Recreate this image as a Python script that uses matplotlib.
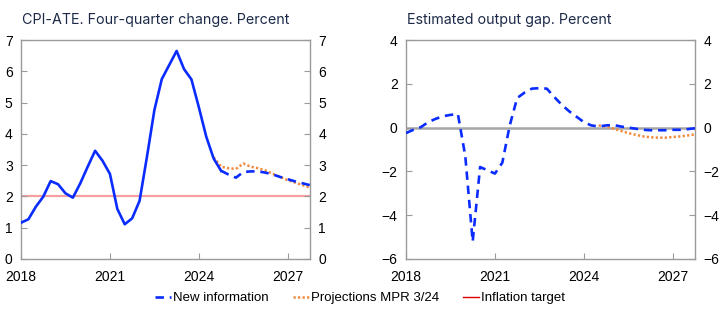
import matplotlib
matplotlib.use("Agg")
import matplotlib.pyplot as plt
from matplotlib.lines import Line2D
import numpy as np

plt.rcParams['font.family'] = ['Liberation Sans', 'DejaVu Sans']

# ---- Data ----
start_year = 2018
# CPI-ATE actual (2018Q1 - 2024Q4)
cpi_actual = [1.16, 1.27, 1.67, 1.99, 2.49, 2.39, 2.10, 1.96,
              2.42, 2.95, 3.46, 3.14, 2.72, 1.60, 1.11, 1.30,
              1.86, 3.27, 4.76, 5.75, 6.20, 6.65, 6.07, 5.74,
              4.85, 3.91, 3.21, 2.82]
# CPI-ATE new information (2024Q4 - 2027Q4)
cpi_new = [2.82, 2.70, 2.60, 2.78, 2.80, 2.80, 2.76, 2.70, 2.62,
           2.55, 2.48, 2.42, 2.36]
cpi_new_start = 27  # quarter index of 2024Q4
# CPI-ATE projections MPR 3/24 (2024Q3 - 2027Q4)
cpi_mpr = [3.25, 2.95, 2.90, 2.88, 3.05, 2.95, 2.90, 2.83, 2.72,
           2.62, 2.52, 2.44, 2.36, 2.28]
cpi_mpr_start = 26
inflation_target = 2.0

# Output gap, new information (2018Q1 - 2027Q4)
gap_new = [-0.25, -0.10, 0.02, 0.25, 0.40, 0.52, 0.58, 0.62,
           -1.30, -5.20, -1.80, -1.95, -2.10, -1.60, 0.10, 1.35,
           1.60, 1.78, 1.80, 1.78, 1.40, 1.05, 0.75, 0.50,
           0.25, 0.10, 0.05, 0.10, 0.12, 0.05, 0.00, -0.05,
           -0.10, -0.12, -0.12, -0.12, -0.10, -0.10, -0.07, -0.03]
# Output gap, projections MPR 3/24 (2024Q3 - 2027Q4)
gap_mpr = [0.10, 0.05, -0.05, -0.15, -0.25, -0.33, -0.40, -0.44,
           -0.46, -0.46, -0.43, -0.40, -0.36, -0.31]
gap_mpr_start = 26

xticks = [2018, 2021, 2024, 2027]
left_yticks = [0, 1, 2, 3, 4, 5, 6, 7]
right_yticks = [-6, -4, -2, 0, 2, 4]

titles = ["CPI-ATE. Four-quarter change. Percent", "Estimated output gap. Percent"]
legend_labels = ["New information", "Projections MPR 3/24", "Inflation target"]

# ---- Styles ----
BLUE = '#0a2cff'
ORANGE = '#f28a3c'
SPINE = '#9a9a9a'
TITLE_C = '#1c2a48'
DASH = (0, (3.2, 2.2))
DOT = (0, (0.9, 0.9))


def qx(start, n):
    return start_year + (start + np.arange(n)) / 4.0


fig = plt.figure(figsize=(7.22, 3.29), dpi=100)
axL = fig.add_axes([21 / 722, 1 - 259 / 329, 289 / 722, 219 / 329])
axR = fig.add_axes([406 / 722, 1 - 259 / 329, 289 / 722, 219 / 329])


def style(ax, yticks, fmt):
    ax.set_xlim(2018, 2027.75)
    ax.set_ylim(yticks[0], yticks[-1])
    ax.set_xticks(xticks)
    ax.set_xticklabels([str(t) for t in xticks])
    ax.set_yticks(yticks)
    ax.set_yticklabels([fmt(v) for v in yticks])
    for s in ax.spines.values():
        s.set_color(SPINE)
        s.set_linewidth(1.0)
    ax.tick_params(axis='both', direction='in', length=4, color=SPINE,
                   labelsize=10, labelcolor='black')
    ax.tick_params(axis='y', left=True, right=True, labelleft=True,
                   labelright=True, pad=6)
    ax.tick_params(axis='x', pad=8)


def fmt_num(v):
    return str(v).replace('-', '\u2212')


# Left panel
xa = qx(0, len(cpi_actual))
axL.axhline(inflation_target, color='#f5a0a0', lw=1.6, zorder=1)
axL.plot(xa, cpi_actual, color=BLUE, lw=1.9, zorder=3)
axL.plot(qx(cpi_mpr_start, len(cpi_mpr)), cpi_mpr, color=ORANGE, lw=1.8,
         linestyle=DOT, zorder=2)
axL.plot(qx(cpi_new_start, len(cpi_new)), cpi_new, color=BLUE, lw=1.9,
         linestyle=DASH, zorder=3)
style(axL, left_yticks, fmt_num)

# Right panel
axR.axhline(0, color='#a5a5a5', lw=1.8, zorder=1)
axR.plot(qx(gap_mpr_start, len(gap_mpr)), gap_mpr, color=ORANGE, lw=1.8,
         linestyle=DOT, zorder=2)
axR.plot(qx(0, len(gap_new)), gap_new, color=BLUE, lw=1.9,
         linestyle=DASH, zorder=3)
style(axR, right_yticks, fmt_num)

# Titles
fig.text(22 / 722, 1 - 20 / 329, titles[0], fontsize=10.3, color=TITLE_C,
         ha='left', va='center', family=['Inter', 'DejaVu Sans'])
fig.text(407 / 722, 1 - 20 / 329, titles[1], fontsize=10.3, color=TITLE_C,
         ha='left', va='center', family=['Inter', 'DejaVu Sans'])

# Legend
handles = [Line2D([], [], color=BLUE, lw=1.9, linestyle=DASH),
           Line2D([], [], color=ORANGE, lw=1.8, linestyle=DOT),
           Line2D([], [], color='#e00000', lw=1.0)]
fig.legend(handles, legend_labels, loc='center', ncol=3,
           bbox_to_anchor=(360 / 722, 1 - 298 / 329), frameon=False,
           fontsize=9.5, handlelength=1.25, handletextpad=0.15,
           columnspacing=1.8)

fig.savefig('out.png', dpi=100)
